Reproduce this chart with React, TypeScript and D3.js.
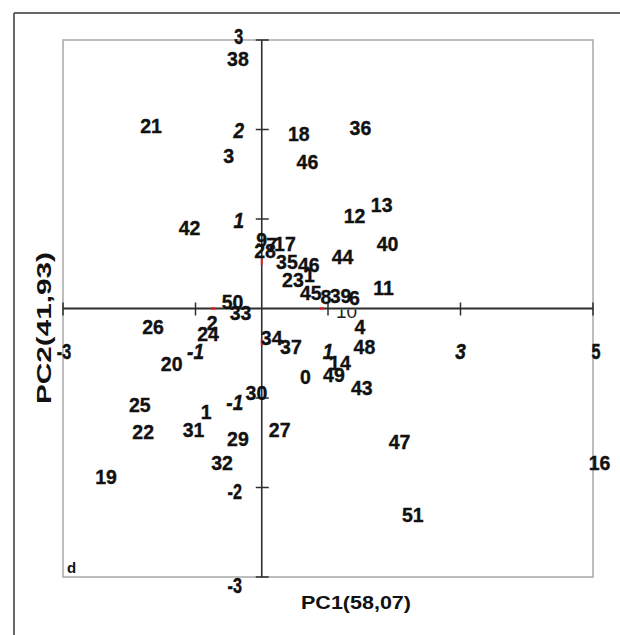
import React from 'react';
import * as d3 from 'd3';

const pointLabels = ['38','21','3','18','36','46','13','12','42','40','9','7','17','28','35','46','1','44','23','11','45','8','39','6','50','33','2','24','26','4','34','37','48','14','49','0','43','20','30','25','1','22','31','29','27','47','32','19','16','51'];
const pc1 = [-0.36,-1.67,-0.50,0.56,1.49,0.69,1.81,1.40,-1.09,1.90,0.00,0.15,0.35,0.05,0.38,0.71,0.72,1.22,0.47,1.84,0.74,0.97,1.19,1.40,-0.44,-0.32,-0.75,-0.81,-1.64,1.48,0.15,0.44,1.55,1.18,1.09,0.66,1.51,-1.36,-0.08,-1.84,-0.84,-1.79,-1.03,-0.36,0.27,2.08,-0.60,-2.35,5.10,2.28];
const pc2 = [2.79,2.04,1.71,1.96,2.02,1.64,1.16,1.04,0.91,0.73,0.77,0.72,0.73,0.65,0.53,0.49,0.38,0.58,0.32,0.23,0.18,0.13,0.15,0.12,0.08,-0.04,-0.16,-0.28,-0.20,-0.20,-0.32,-0.42,-0.42,-0.60,-0.74,-0.76,-0.88,-0.61,-0.94,-1.07,-1.15,-1.37,-1.35,-1.45,-1.35,-1.49,-1.72,-1.88,-1.72,-2.30];

// partially hidden label beneath the horizontal axis
const hiddenLabel = '10';
const hiddenPc1 = 1.28;
const hiddenPc2 = -0.03;

const xTicks = [-3, -1, 1, 3, 5];
const yTicks = [3, 2, 1, -1, -2, -3];
const xItalic = [-1, 1, 3];
const yItalic = [2, 1, -1];
const redMarksX = [-0.73, 0.91];
const redMarksY = [0.52, -0.38];

const xTitle = 'PC1(58,07)';
const yTitle = 'PC2(41,93)';
const panelTag = 'd';

export default function App() {
  const x = d3.scaleLinear().domain([-3, 5]).range([63, 593]);
  const y = d3.scaleLinear().domain([-3, 3]).range([577, 40]);
  const x0 = x(0);
  const y0 = y(0);
  const font = '"Liberation Sans", Arial, sans-serif';
  const axisColor = '#2e2e2e';

  return (
    <svg width={620} height={635} style={{ position: 'absolute', left: 0, top: 0, background: '#fff' }} fontFamily={font}>
      <defs>
        <clipPath id="belowAxis">
          <rect x={0} y={y0 + 1} width={620} height={40} />
        </clipPath>
      </defs>
      <rect x={0} y={0} width={620} height={635} fill="#fff" />
      {/* outer frame */}
      <line x1={14} y1={13} x2={620} y2={13} stroke="#333" strokeWidth={1.6} />
      <line x1={14} y1={13} x2={14} y2={635} stroke="#444" strokeWidth={1.6} />
      {/* inner plot box */}
      <rect x={x(-3)} y={y(3)} width={x(5) - x(-3)} height={y(-3) - y(3)} fill="none" stroke="#a8a8a8" strokeWidth={1.5} />

      {/* hidden label under axis */}
      <text clipPath="url(#belowAxis)" x={x(hiddenPc1)} y={y(hiddenPc2)} dy="0.36em" textAnchor="middle" fontSize={19} fill="#222" fontWeight="normal">{hiddenLabel}</text>

      {/* axes */}
      <line x1={x(-3)} y1={y0} x2={x(5)} y2={y0} stroke={axisColor} strokeWidth={2} />
      <line x1={x0} y1={y(3)} x2={x0} y2={y(-3)} stroke={axisColor} strokeWidth={1.6} />
      {xTicks.map(t => (
        <line key={'xt' + t} x1={x(t)} x2={x(t)} y1={y0 - 6} y2={y0 + 7} stroke={axisColor} strokeWidth={1.5} />
      ))}
      {yTicks.map(t => (
        <line key={'yt' + t} x1={x0 - 6} x2={x0 + 7} y1={y(t)} y2={y(t)} stroke={axisColor} strokeWidth={1.5} />
      ))}
      {redMarksX.map((v, i) => (
        <line key={'rx' + i} x1={x(v) - 2} x2={x(v) + 2} y1={y0} y2={y0} stroke="#e02020" strokeWidth={2.5} />
      ))}
      {redMarksY.map((v, i) => (
        <line key={'ry' + i} x1={x0} x2={x0} y1={y(v) - 3} y2={y(v) + 3} stroke="#e02020" strokeWidth={2} />
      ))}

      {/* tick labels */}
      {xTicks.map(t => {
        const it = xItalic.includes(t);
        const cx = x(t) + (t === 5 ? 3 : t === -3 ? 1 : 0);
        return (
          <text key={'xl' + t} transform={`translate(${cx},${y0 + 43}) scale(${it ? 1 : 0.85},1.15)`} dy="0.36em" textAnchor="middle"
            fontSize={19} fontWeight="bold" fontStyle={it ? 'italic' : 'normal'} fill="#111" stroke="#111" strokeWidth={0.4}>{t}</text>
        );
      })}
      {yTicks.map(t => {
        const it = yItalic.includes(t);
        const cy = y(t) + (t === 3 ? -4 : t === -3 ? 8 : t < 0 ? 4 : 1);
        const cx = x0 - (t < 0 ? 27 : 23);
        return (
          <text key={'yl' + t} transform={`translate(${cx},${cy}) scale(${it ? 1 : 0.85},1.15)`} dy="0.36em" textAnchor="middle"
            fontSize={19} fontWeight="bold" fontStyle={it ? 'italic' : 'normal'} fill="#111" stroke="#111" strokeWidth={0.4}>{t}</text>
        );
      })}

      {/* point labels */}
      {pointLabels.map((lab, i) => (
        <text key={'p' + i} transform={`translate(${x(pc1[i])},${y(pc2[i])}) scale(1,1.07)`} dy="0.36em" textAnchor="middle" fontSize={19.5} fontWeight="bold" fill="#111" stroke="#111" strokeWidth={0.35}>{lab}</text>
      ))}

      {/* panel tag */}
      <text x={x(-3) + 4} y={y(-3) - 4} fontSize={15} fontWeight="bold" fill="#111">{panelTag}</text>

      {/* axis titles */}
      <text x={356} y={602} dy="0.36em" textAnchor="middle" fontSize={19} fontWeight="bold" fill="#111" textLength={110} lengthAdjust="spacingAndGlyphs">{xTitle}</text>
      <text transform="translate(43,328) rotate(-90)" dy="0.36em" textAnchor="middle" fontSize={21} fontWeight="bold" fill="#111" textLength={152} lengthAdjust="spacingAndGlyphs">{yTitle}</text>
    </svg>
  );
}
